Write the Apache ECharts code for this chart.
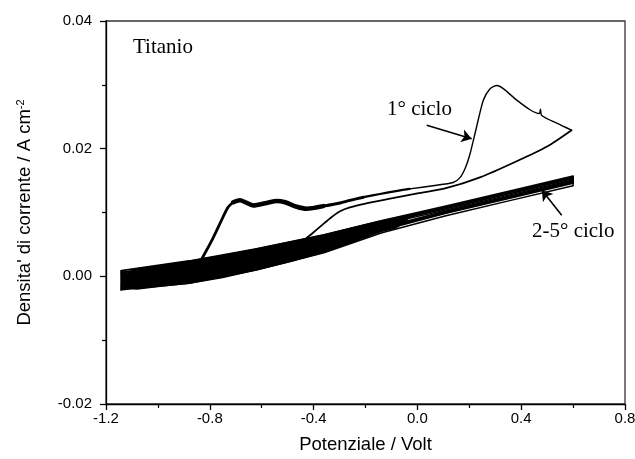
<!DOCTYPE html>
<html>
<head>
<meta charset="utf-8">
<script src="https://cdn.jsdelivr.net/npm/echarts@6/dist/echarts.min.js"></script>
<style>
  html, body { margin: 0; padding: 0; background: #fff; }
  #main { width: 635px; height: 459px; }
</style>
</head>
<body>
<div id="main"></div>
<script>
(function () {
  'use strict';

  // potenziali (V) a cui sono letti i cicli 2-5
  var bandPotential = [-1.14, -0.88, -0.62, -0.36, -0.14, 0.11, 0.36, 0.6];
  // cicli 2-5: andata e ritorno (A cm-2)
  var cycle2Fwd = [0.0009, 0.0024, 0.0043, 0.0065, 0.0087, 0.0110, 0.0134, 0.0157];
  var cycle3Fwd = [0.0006, 0.0021, 0.0041, 0.0063, 0.0085, 0.0108, 0.0132, 0.0155];
  var cycle4Fwd = [0.0003, 0.0018, 0.0038, 0.0061, 0.0083, 0.0106, 0.0130, 0.0153];
  var cycle5Fwd = [0.0001, 0.0016, 0.0036, 0.0059, 0.0081, 0.0104, 0.0128, 0.0151];
  var cycle2Rev = [-0.0015, -0.0005, 0.0016, 0.0044, 0.0076, 0.0102, 0.0126, 0.0150];
  var cycle3Rev = [-0.0017, -0.0007, 0.0014, 0.0042, 0.0074, 0.0100, 0.0124, 0.0148];
  var cycle4Rev = [-0.0019, -0.0009, 0.0012, 0.0040, 0.0072, 0.0099, 0.0123, 0.0146];
  var cycle5Rev = [-0.0021, -0.0011, 0.0010, 0.0037, 0.0068, 0.0095, 0.0119, 0.0142];

  // inviluppo del rumore nella zona catodica
  var noiseTop = [[-1.145, 0.0010], [-1.12, 0.0006], [-1.08, 0.0013], [-1.0, 0.0017], [-0.88, 0.0025],
    [-0.75, 0.0034], [-0.62, 0.0044], [-0.49, 0.0055], [-0.36, 0.0066], [-0.26, 0.0076],
    [-0.14, 0.0088], [0.0, 0.0100]];
  var noiseBottom = [[-1.145, -0.0023], [-1.12, -0.0019], [-1.08, -0.0021], [-1.0, -0.0017], [-0.88, -0.0012],
    [-0.75, -0.0003], [-0.62, 0.0009], [-0.49, 0.0022], [-0.36, 0.0037], [-0.26, 0.0051],
    [-0.14, 0.0069], [-0.08, 0.0075]];

  // 1° ciclo, a tratti
  var cycle1Rise = [[-0.83, 0.0028], [-0.79, 0.0058], [-0.75, 0.0092], [-0.73, 0.0108], [-0.71, 0.0116]];
  var cycle1Plateau = [[-0.71, 0.0116], [-0.684, 0.0119], [-0.658, 0.0115], [-0.632, 0.0111], [-0.581, 0.0115],
    [-0.542, 0.0118], [-0.51, 0.0116], [-0.465, 0.0109], [-0.427, 0.0106], [-0.363, 0.0110]];
  var cycle1Shoulder = [[-0.363, 0.0110], [-0.298, 0.0115], [-0.26, 0.0119], [-0.208, 0.0124]];
  var cycle1Flat = [[-0.208, 0.0124], [-0.106, 0.0132], [-0.03, 0.0137]];
  var cycle1Peak = [[-0.03, 0.0137], [0.06, 0.0142], [0.138, 0.0147], [0.165, 0.0155],
    [0.185, 0.0170], [0.203, 0.0192], [0.228, 0.0234], [0.254, 0.0276], [0.28, 0.0294], [0.306, 0.0299],
    [0.331, 0.0294], [0.383, 0.0276], [0.434, 0.0261], [0.47, 0.0255], [0.474, 0.0262], [0.479, 0.0252],
    [0.537, 0.0240], [0.594, 0.0229]];
  var cycle1Return = [[0.594, 0.0229], [0.498, 0.0203], [0.37, 0.0178], [0.241, 0.0155], [0.11, 0.0138],
    [0.0, 0.0130], [-0.1, 0.0122], [-0.2, 0.0114], [-0.26, 0.0108], [-0.298, 0.0102], [-0.33, 0.0093],
    [-0.36, 0.0083], [-0.40, 0.0069], [-0.427, 0.0060]];

  var sans = '"Liberation Sans", Arial, sans-serif';
  var serif = '"Liberation Serif", "Times New Roman", serif';

  function loop(fwd, rev) {
    var out = bandPotential.map(function (v, i) { return [v, fwd[i]]; });
    var back = bandPotential.map(function (v, i) { return [v, rev[i]]; }).reverse();
    return out.concat(back);
  }

  function trace(data, width, smooth, extra) {
    var s = {
      type: 'line',
      data: data,
      symbol: 'none',
      smooth: smooth,
      lineStyle: { color: '#000', width: width, cap: 'round', join: 'round' },
      silent: true,
      z: 3
    };
    if (extra) {
      for (var k in extra) s[k] = extra[k];
    }
    return s;
  }

  var myChart = echarts.init(document.getElementById('main'));

  var option = {
    animation: false,
    backgroundColor: '#fff',
    grid: {
      left: 106, right: 10, top: 21, bottom: 55,
      show: true, borderColor: '#333', borderWidth: 1.3,
      outerBoundsMode: 'none'
    },
    xAxis: {
      type: 'value', min: -1.2, max: 0.8, interval: 0.4,
      name: 'Potenziale / Volt', nameLocation: 'middle', nameGap: 31,
      nameTextStyle: { fontFamily: sans, fontSize: 18.5, color: '#000' },
      axisLine: { onZero: false, lineStyle: { color: '#000', width: 1.3 } },
      axisTick: { length: 6, lineStyle: { color: '#000', width: 1.3 } },
      minorTick: { show: true, splitNumber: 2, length: 4, lineStyle: { color: '#000', width: 1.2 } },
      splitLine: { show: false },
      axisLabel: {
        fontFamily: sans, fontSize: 15, color: '#000', margin: 7,
        formatter: function (v) { return v.toFixed(1); }
      }
    },
    yAxis: {
      type: 'value', min: -0.02, max: 0.04, interval: 0.02,
      name: 'Densita\' di corrente / A cm{sup|-2}', nameLocation: 'middle', nameGap: 72,
      nameTextStyle: {
        fontFamily: sans, fontSize: 18.5, color: '#000',
        rich: { sup: { fontFamily: sans, fontSize: 11, color: '#000', verticalAlign: 'top' } }
      },
      axisLine: { onZero: false, lineStyle: { color: '#000', width: 1.3 } },
      axisTick: { length: 6, lineStyle: { color: '#000', width: 1.3 } },
      minorTick: { show: true, splitNumber: 2, length: 4, lineStyle: { color: '#000', width: 1.2 } },
      splitLine: { show: false },
      axisLabel: {
        fontFamily: sans, fontSize: 15, color: '#000', margin: 14,
        formatter: function (v) { return v.toFixed(2); }
      }
    },
    graphic: [
      { type: 'text', left: 133, top: 37, style: { text: 'Titanio', font: '21px ' + serif, fill: '#000' } },
      { type: 'text', left: 387, top: 99, style: { text: '1° ciclo', font: '21px ' + serif, fill: '#000' } },
      { type: 'text', left: 532, top: 221, style: { text: '2-5° ciclo', font: '21px ' + serif, fill: '#000' } }
    ],
    series: [
      {
        type: 'custom',
        coordinateSystem: 'cartesian2d',
        data: [[-1, 0]],
        silent: true,
        z: 2,
        renderItem: function (params, api) {
          var pts = noiseTop.concat(noiseBottom.slice().reverse()).map(function (p) {
            return api.coord(p);
          });
          return { type: 'polygon', shape: { points: pts }, style: { fill: '#000' } };
        }
      },
      trace(loop(cycle2Fwd, cycle2Rev), 1.8, false),
      trace(loop(cycle3Fwd, cycle3Rev), 1.8, false),
      trace(loop(cycle4Fwd, cycle4Rev), 1.8, false),
      trace(loop(cycle5Fwd, cycle5Rev), 1.5, false),
      trace(cycle1Rise, 2.8, 0.25),
      trace(cycle1Plateau, 4.5, 0.25),
      trace(cycle1Shoulder, 3, 0.25),
      trace(cycle1Flat, 2.2, 0.25),
      trace(cycle1Return, 1.8, 0.25),
      trace(cycle1Peak, 1.4, 0.25, {
        markLine: {
          silent: true,
          symbol: ['none', 'arrow'],
          symbolSize: 10,
          label: { show: false },
          lineStyle: { color: '#000', width: 1.6, type: 'solid' },
          data: [
            [{ coord: [0.036, 0.02366] }, { coord: [0.209, 0.02157] }],
            [{ coord: [0.556, 0.00956] }, { coord: [0.480, 0.01347] }]
          ]
        }
      })
    ]
  };

  myChart.setOption(option);
  window.addEventListener('resize', function () {
    myChart.resize();
  });
})();
</script>
</body>
</html>
